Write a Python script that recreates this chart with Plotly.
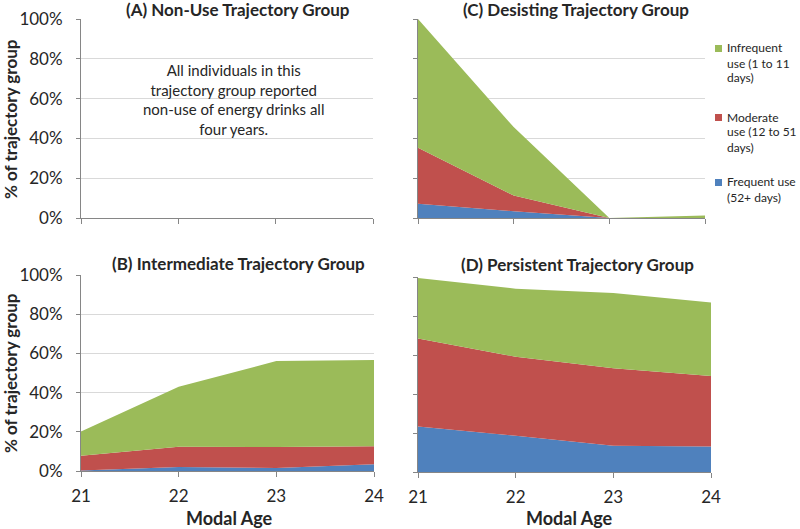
import plotly.graph_objects as go

ages = [21, 22, 23, 24]
series_names = ["Frequent use (52+ days)", "Moderate use (12 to 51 days)", "Infrequent use (1 to 11 days)"]
legend_lines = {
    "Infrequent use (1 to 11 days)": ["Infrequent", "use (1 to 11", "days)"],
    "Moderate use (12 to 51 days)": ["Moderate", "use (12 to 51", "days)"],
    "Frequent use (52+ days)": ["Frequent use", "(52+ days)"],
}
colors = {"Frequent use (52+ days)": "#4F81BD",
          "Moderate use (12 to 51 days)": "#C0504D",
          "Infrequent use (1 to 11 days)": "#9BBB59"}

# values in % of trajectory group (not cumulative)
desisting_frequent = [7.2, 3.4, 0.0, 0.0]
desisting_moderate = [28.1, 7.9, 0.0, 0.0]
desisting_infrequent = [64.7, 34.4, 0.0, 1.3]

intermediate_frequent = [0.3, 2.0, 1.5, 3.4]
intermediate_moderate = [7.5, 10.4, 10.7, 9.2]
intermediate_infrequent = [12.3, 30.6, 43.9, 44.0]

persistent_frequent = [23.3, 18.6, 13.5, 13.1]
persistent_moderate = [45.2, 40.5, 39.7, 36.1]
persistent_infrequent = [31.0, 34.9, 38.6, 37.7]

panel_titles = ["(A) Non-Use Trajectory Group", "(C) Desisting Trajectory Group",
                "(B) Intermediate Trajectory Group", "(D) Persistent Trajectory Group"]
nonuse_note = "All individuals in this<br>trajectory group reported<br>non-use of energy drinks all<br>four years."
y_ticks = [0, 20, 40, 60, 80, 100]
y_title = "% of trajectory group"
x_title = "Modal Age"

W, H = 800, 529
FONT = "Lato"
TXT = "#262626"
AX = "#868686"
GRID = "#D9D9D9"

def px_x(a, b):
    return [a / W, b / W]

def px_y(top, bottom):
    return [1 - bottom / H, 1 - top / H]

# panel geometry (pixels)
panels = {
    "A": dict(x=px_x(81, 373), y=px_y(19, 218), ax="", showx=False, showy=True),
    "C": dict(x=px_x(418, 705), y=px_y(19, 218), ax="2", showx=False, showy=False),
    "B": dict(x=px_x(81, 374), y=px_y(275, 471), ax="3", showx=True, showy=True),
    "D": dict(x=px_x(418, 711), y=px_y(277, 472), ax="4", showx=True, showy=False),
}

fig = go.Figure()

data = {
    "C": [desisting_frequent, desisting_moderate, desisting_infrequent],
    "B": [intermediate_frequent, intermediate_moderate, intermediate_infrequent],
    "D": [persistent_frequent, persistent_moderate, persistent_infrequent],
}

fig.add_trace(go.Scatter(x=[], y=[], xaxis="x", yaxis="y", showlegend=False))
for key, vals in data.items():
    ax = panels[key]["ax"]
    for name, v in zip(series_names, vals):
        fig.add_trace(go.Scatter(
            x=ages, y=v, name=name, mode="lines",
            line=dict(width=0, color=colors[name]),
            fillcolor=colors[name], stackgroup="g" + key,
            xaxis="x" + ax, yaxis="y" + ax, showlegend=False,
            hoverinfo="skip"))

layout = dict(width=W, height=H, margin=dict(l=0, r=0, t=0, b=0, autoexpand=False),
              plot_bgcolor="white", paper_bgcolor="white",
              font=dict(family=FONT, color=TXT), showlegend=False)

for key, p in panels.items():
    ax = p["ax"]
    layout["xaxis" + ax] = dict(
        domain=p["x"], anchor="y" + ax, range=[21, 24], tickvals=ages,
        showticklabels=p["showx"], ticks="outside", ticklen=5, tickcolor=AX,
        showline=True, linecolor=AX, showgrid=False, zeroline=False, automargin=False,
        tickfont=dict(size=17, color=TXT, family=FONT), ticklabelstandoff=5)
    layout["yaxis" + ax] = dict(
        domain=p["y"], anchor="x" + ax, range=[0, 100], tickvals=y_ticks,
        ticktext=[f"{t}%" for t in y_ticks], showticklabels=p["showy"],
        ticks="outside", ticklen=4, tickcolor=AX, showline=True, linecolor=AX,
        showgrid=True, gridcolor=GRID, gridwidth=1, zeroline=False, automargin=False,
        tickfont=dict(size=17, color=TXT, family=FONT), ticklabelstandoff=10)

annotations = []
title_pos = [(238, 10), (576, 9), (238, 263), (577, 264)]
for t, (cx, cy) in zip(panel_titles, title_pos):
    annotations.append(dict(text="<b>" + t + "</b>", x=cx / W, y=1 - cy / H,
                            xref="paper", yref="paper", showarrow=False,
                            xanchor="center", yanchor="middle",
                            font=dict(size=17, color=TXT, family=FONT)))

annotations.append(dict(text=nonuse_note, x=233 / W, y=1 - 99 / H, xref="paper", yref="paper",
                        showarrow=False, xanchor="center", yanchor="middle", align="center",
                        font=dict(size=15, color=TXT, family=FONT)))

for cy in (119, 373):
    annotations.append(dict(text="<b>" + y_title + "</b>", x=10 / W, y=1 - cy / H,
                            xref="paper", yref="paper", showarrow=False, textangle=-90,
                            xanchor="center", yanchor="middle",
                            font=dict(size=17, color=TXT, family=FONT)))
for cx in (230, 569):
    annotations.append(dict(text="<b>" + x_title + "</b>", x=cx / W, y=1 - 518 / H,
                            xref="paper", yref="paper", showarrow=False,
                            xanchor="center", yanchor="middle",
                            font=dict(size=18, color=TXT, family=FONT)))

shapes = []
legend_order = list(reversed(series_names))
leg_top = [48, 117, 182]
for name, y0 in zip(legend_order, leg_top):
    shapes.append(dict(type="rect", xref="paper", yref="paper",
                       x0=715 / W, x1=722 / W, y0=1 - (y0 + 4) / H, y1=1 - (y0 - 3) / H,
                       fillcolor=colors[name], line=dict(width=0)))
    for i, line in enumerate(legend_lines[name]):
        annotations.append(dict(text=line, x=725 / W, y=1 - (y0 + 15 * i) / H,
                                xref="paper", yref="paper", showarrow=False,
                                xanchor="left", yanchor="middle",
                                font=dict(size=12, color=TXT, family=FONT)))

layout["annotations"] = annotations
layout["shapes"] = shapes
fig.update_layout(**layout)
fig.write_html("out.html", config={"displayModeBar": False},
               post_script="document.body.style.margin='0';document.body.style.overflow='hidden';")
